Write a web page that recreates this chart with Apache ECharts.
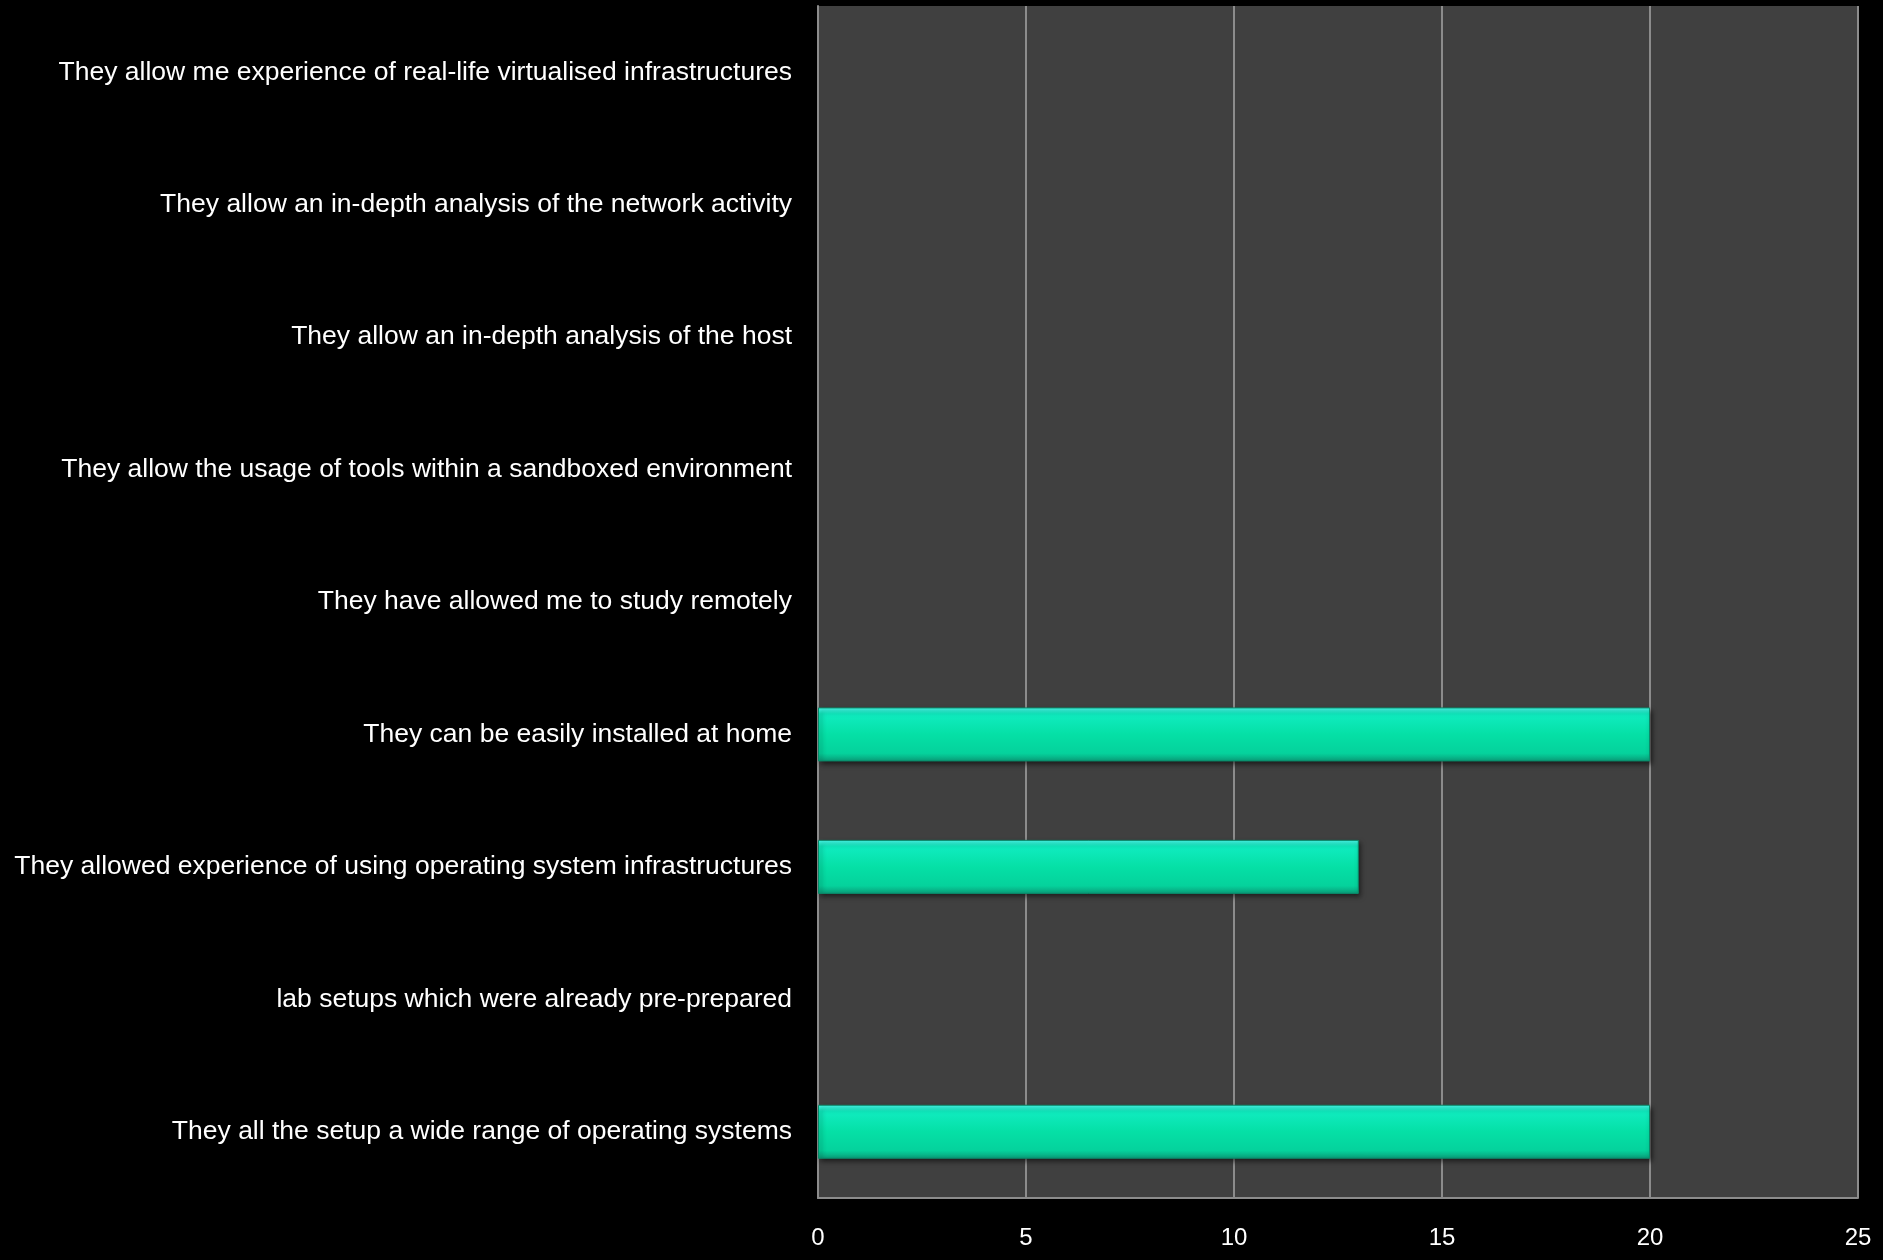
<!DOCTYPE html>
<html>
<head>
<meta charset="utf-8">
<script src="https://cdn.jsdelivr.net/npm/echarts@6/dist/echarts.min.js"></script>
<style>
  html, body { margin: 0; padding: 0; background: #000; }
  #chart { width: 1883px; height: 1260px; }
</style>
</head>
<body>
<div id="chart"></div>
<script>
// categories listed bottom to top, as the category axis draws them
var categories = [
  'They all the setup a wide range of operating systems',
  'lab setups which were already pre-prepared',
  'They allowed experience of using operating system infrastructures',
  'They can be easily installed at home',
  'They have allowed me to study remotely',
  'They allow the usage of tools within a sandboxed environment',
  'They allow an in-depth analysis of the host',
  'They allow an in-depth analysis of the network activity',
  'They allow me experience of real-life virtualised infrastructures'
];
var values = [20, 0, 13, 20, 0, 0, 0, 0, 0];

// zero bars get no border/shadow so nothing shows at the axis
var barData = values.map(function (v) {
  if (v === 0) {
    return { value: v, itemStyle: { borderWidth: 0, shadowBlur: 0, shadowOffsetX: 0, shadowOffsetY: 0, opacity: 0 } };
  }
  return v;
});

var chart = echarts.init(document.getElementById('chart'));
chart.setOption({
  backgroundColor: '#000',
  animation: false,
  grid: {
    left: 818, right: 25, top: 6, bottom: 62,
    show: true, backgroundColor: '#404040', borderWidth: 0
  },
  xAxis: {
    type: 'value',
    min: 0, max: 25, interval: 5,
    axisLine: { show: true, lineStyle: { color: '#8c8c8c', width: 2 } },
    axisTick: { show: false },
    splitLine: { show: true, lineStyle: { color: '#8c8c8c', width: 2 } },
    axisLabel: {
      color: '#fff', fontSize: 24, margin: 28,
      fontFamily: 'Liberation Sans, Arial, sans-serif'
    }
  },
  yAxis: {
    type: 'category',
    data: categories,
    axisLine: { show: true, lineStyle: { color: '#8c8c8c', width: 2 } },
    axisTick: { show: false },
    splitLine: { show: false },
    axisLabel: {
      color: '#fff', fontSize: 26.5, margin: 26,
      fontFamily: 'Liberation Sans, Arial, sans-serif'
    }
  },
  series: [{
    type: 'bar',
    data: barData,
    barWidth: 54,
    itemStyle: {
      color: new echarts.graphic.LinearGradient(0, 0, 0, 1, [
        { offset: 0, color: '#4dfff0' },
        { offset: 0.12, color: '#10ecc0' },
        { offset: 0.5, color: '#05e0a6' },
        { offset: 0.85, color: '#05d29c' },
        { offset: 1, color: '#0a9c78' }
      ]),
      borderColor: '#0b8a6a',
      borderWidth: 1,
      shadowColor: 'rgba(0,0,0,0.6)',
      shadowBlur: 5,
      shadowOffsetX: 2,
      shadowOffsetY: 3
    }
  }]
});
</script>
</body>
</html>
